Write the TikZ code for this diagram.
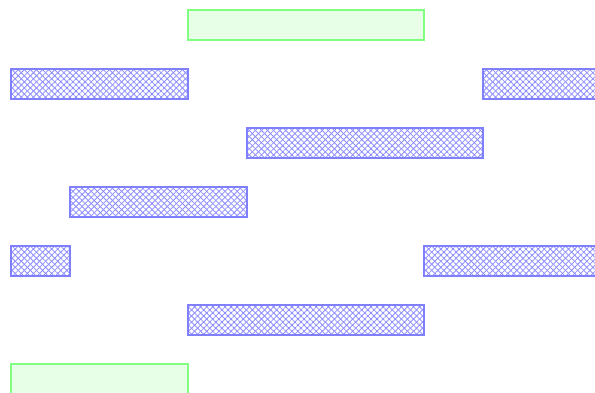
\documentclass[tikz,border=0pt]{standalone}
\usetikzlibrary{patterns.meta}
\definecolor{bstroke}{HTML}{8080FF}
\definecolor{bhatch}{HTML}{8C8CFF}
\definecolor{gstroke}{HTML}{80FF80}
\definecolor{gfill}{HTML}{E6FFE6}
\tikzset{
  bar/.style={rectangle, anchor=north west, inner sep=0pt, outer sep=0pt,
    minimum height=30pt, line width=2.5pt},
  greenbar/.style={bar, draw=gstroke, fill=gfill},
  hatchbar/.style={bar, draw=bstroke,
    preaction={pattern={Lines[angle=45,distance=4.3pt,line width=0.8pt]}, pattern color=bhatch},
    pattern={Lines[angle=-45,distance=4.3pt,line width=0.8pt]}, pattern color=bhatch}
}
\begin{document}
\begin{tikzpicture}[x=1pt,y=-1pt]
\useasboundingbox (0,0) rectangle (595,392);
\clip (0,0) rectangle (595,392);
\node[greenbar, minimum width=236pt] (g1) at (188,10) {};
\node[hatchbar, minimum width=177pt] (b1) at (11,69) {};
\node[hatchbar, minimum width=177pt] (b2) at (483,69) {};
\node[hatchbar, minimum width=236pt] (b3) at (247,128) {};
\node[hatchbar, minimum width=177pt] (b4) at (70,187) {};
\node[hatchbar, minimum width=59pt] (b5) at (11,246) {};
\node[hatchbar, minimum width=236pt] (b6) at (424,246) {};
\node[hatchbar, minimum width=236pt] (b7) at (188,305) {};
\node[greenbar, minimum width=177pt] (g2) at (11,364) {};
\end{tikzpicture}
\end{document}
